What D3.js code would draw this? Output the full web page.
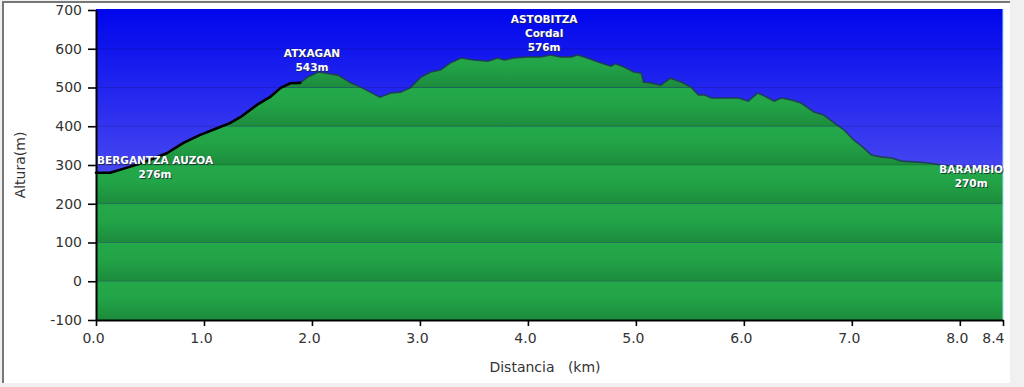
<!DOCTYPE html>
<html>
<head>
<meta charset="utf-8">
<script src="https://cdn.jsdelivr.net/npm/d3@7"></script>
<style>
  body { margin: 0; background: #f0f0f0; }
  svg { display: block; font-family: "DejaVu Sans", Verdana, sans-serif; }
</style>
</head>
<body>
<svg id="chart" width="1024" height="387"></svg>
<script>
// profile (km, m)
var distKm = [0.00, 0.13, 0.25, 0.41, 0.66, 0.81, 0.96, 1.12, 1.24, 1.34, 1.49, 1.61, 1.71, 1.80, 1.89,
  1.96, 2.06, 2.24, 2.36, 2.45, 2.54, 2.63, 2.73, 2.82, 2.91, 3.01, 3.10, 3.19, 3.28, 3.38, 3.50,
  3.63, 3.72, 3.78, 3.87, 4.00, 4.12, 4.21, 4.30, 4.40, 4.46, 4.55, 4.65, 4.77, 4.81, 4.89, 4.98,
  5.05, 5.07, 5.14, 5.23, 5.32, 5.42, 5.51, 5.58, 5.63, 5.70, 5.82, 5.95, 6.04, 6.13, 6.19, 6.28,
  6.35, 6.44, 6.53, 6.65, 6.74, 6.84, 6.93, 7.02, 7.11, 7.18, 7.27, 7.37, 7.46, 7.58, 7.71, 7.83,
  8.01, 8.20, 8.39, 8.40];
var elevM = [280, 280, 290, 304, 331, 357, 377, 395, 408, 424, 455, 475, 499, 511, 512,
  527, 540, 532, 512, 501, 488, 475, 486, 488, 499, 527, 540, 545, 563, 576, 571,
  568, 576, 571, 576, 579, 579, 584, 579, 579, 584, 576, 566, 555, 561, 553, 540,
  537, 514, 512, 506, 524, 514, 501, 481, 481, 473, 473, 473, 465, 486, 478, 465,
  473, 468, 460, 437, 429, 408, 390, 364, 344, 326, 321, 318, 310, 308, 305, 300,
  295, 292, 287, 287];
var trackEndKm = 1.89;

var yTicks = [-100, 0, 100, 200, 300, 400, 500, 600, 700];
var xTicks = [0, 1, 2, 3, 4, 5, 6, 7, 8, 8.4];

var wpNames = [["BERGANTZA AUZOA", "276m"], ["ATXAGAN", "543m"], ["ASTOBITZA", "Cordal", "576m"], ["BARAMBIO", "270m"]];
var wpKm = [0, 2.0, 4.15, 8.4];
var wpElev = [276, 543, 576, 270];

var svg = d3.select("#chart");

// panel
svg.append("rect").attr("x", 3).attr("y", 2).attr("width", 1007).attr("height", 381).attr("fill", "#fff");
svg.append("path").attr("d", "M3,383V2H1010").attr("fill", "none").attr("stroke", "#777").attr("stroke-width", 2);

var x = d3.scaleLinear().domain([0, 8.4]).range([96, 1003]);
var y = d3.scaleLinear().domain([-100, 700]).range([320, 10]);

var defs = svg.append("defs");
var sky = defs.append("linearGradient").attr("id", "sky").attr("x1", 0).attr("y1", 0).attr("x2", 0).attr("y2", 1);
sky.append("stop").attr("offset", "0%").attr("stop-color", "#0006ec");
sky.append("stop").attr("offset", "55%").attr("stop-color", "#4a4af0");
sky.append("stop").attr("offset", "100%").attr("stop-color", "#7a7af6");

var band = defs.append("linearGradient").attr("id", "band").attr("x1", 0).attr("y1", 0).attr("x2", 0).attr("y2", 1);
band.append("stop").attr("offset", "0%").attr("stop-color", "#24a94a");
band.append("stop").attr("offset", "45%").attr("stop-color", "#22a347");
band.append("stop").attr("offset", "100%").attr("stop-color", "#1c8b3c");

var pts = distKm.map(function (d, i) { return [d, elevM[i]]; });

var area = d3.area()
  .x(function (d) { return x(d[0]); })
  .y0(y(-100))
  .y1(function (d) { return y(d[1]); });
var line = d3.line()
  .x(function (d) { return x(d[0]); })
  .y(function (d) { return y(d[1]); });

defs.append("clipPath").attr("id", "ground").append("path").attr("d", area(pts));

// sky
svg.append("rect")
  .attr("x", x(0)).attr("y", y(700) - 1)
  .attr("width", x(8.4) - x(0)).attr("height", y(-100) - y(700) + 1)
  .attr("fill", "url(#sky)");

// ground bands, one per 100 m
svg.append("g").attr("clip-path", "url(#ground)")
  .selectAll("rect")
  .data(yTicks.slice(0, -1))
  .enter()
  .append("rect")
  .attr("x", x(0))
  .attr("width", x(8.4) - x(0))
  .attr("y", function (d) { return y(d + 100); })
  .attr("height", function (d) { return y(d) - y(d + 100); })
  .attr("fill", "url(#band)");

// grid
svg.append("g")
  .selectAll("line")
  .data(yTicks.slice(1, -1))
  .enter()
  .append("line")
  .attr("x1", x(0)).attr("x2", x(8.4))
  .attr("y1", function (d) { return y(d); })
  .attr("y2", function (d) { return y(d); })
  .attr("stroke", "#000").attr("stroke-opacity", 0.14);

// profile edge
svg.append("path").attr("d", line(pts))
  .attr("fill", "none").attr("stroke", "#1d3b4e").attr("stroke-width", 1.6).attr("stroke-opacity", 0.85);

// track done so far
svg.append("path")
  .attr("d", line(pts.filter(function (d) { return d[0] <= trackEndKm; })))
  .attr("fill", "none").attr("stroke", "#000").attr("stroke-width", 2.6)
  .attr("stroke-linejoin", "round").attr("stroke-linecap", "round");

// right edge
svg.append("line").attr("x1", x(8.4)).attr("x2", x(8.4)).attr("y1", y(700) - 1).attr("y2", y(-100))
  .attr("stroke", "#9fe0e8").attr("stroke-width", 1);

// waypoint labels
var wpDy = [4, 0, -7, 10];
var wpG = svg.append("g").attr("font-size", "10.5px").attr("font-weight", "bold").attr("text-anchor", "middle");
wpNames.forEach(function (lines, i) {
  var t = wpG.append("text").attr("x", 0).attr("y", 0).text(lines[0]).attr("opacity", 0);
  var w = 0;
  lines.forEach(function (s) {
    t.text(s);
    w = Math.max(w, t.node().getComputedTextLength());
  });
  t.remove();
  var cx = Math.max(x(0) + w / 2 + 1, Math.min(x(8.4) - w / 2, x(wpKm[i])));
  var base = y(wpElev[i]) + wpDy[i] - (lines.length - 1) * 14;
  lines.forEach(function (s, j) {
    wpG.append("text").attr("x", cx + 1).attr("y", base + j * 14 + 1)
      .attr("fill", "#1a2233").attr("fill-opacity", 0.75).text(s);
    wpG.append("text").attr("x", cx).attr("y", base + j * 14)
      .attr("fill", "#fff").text(s);
  });
});

// axes
var yAxis = svg.append("g")
  .attr("transform", "translate(" + x(0) + ",0)")
  .call(d3.axisLeft(y).tickValues(yTicks).tickSize(8).tickSizeOuter(0).tickPadding(6)
    .tickFormat(function (d) { return String(d); }));
var xAxis = svg.append("g")
  .attr("transform", "translate(0," + y(-100) + ")")
  .call(d3.axisBottom(x).tickValues(xTicks).tickSize(6).tickSizeOuter(0).tickPadding(7).tickFormat(d3.format(".1f")));

[yAxis, xAxis].forEach(function (g) {
  g.select(".domain").attr("stroke", "#000").attr("stroke-width", 2);
  g.selectAll(".tick line").attr("stroke", "#000").attr("stroke-width", 1.6);
  g.selectAll(".tick text").attr("fill", "#333").attr("font-size", "14px")
    .attr("font-family", "\"DejaVu Sans\", Verdana, sans-serif");
});
xAxis.selectAll(".tick text")
  .attr("dx", function (d) { return d === 8.4 ? 1 : -3; })
  .attr("text-anchor", function (d) { return d === 8.4 ? "end" : "middle"; });

svg.append("text")
  .attr("x", 545).attr("y", 372)
  .attr("text-anchor", "middle").attr("font-size", "14px").attr("fill", "#333")
  .style("white-space", "pre")
  .text("Distancia   (km)");

svg.append("text")
  .attr("transform", "translate(25,165) rotate(-90)")
  .attr("text-anchor", "middle").attr("font-size", "14px").attr("fill", "#333")
  .text("Altura(m)");
</script>
</body>
</html>
